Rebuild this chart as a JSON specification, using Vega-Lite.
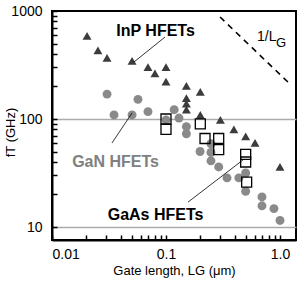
{
  "$schema": "https://vega.github.io/schema/vega-lite/v6.json",
  "autosize": "none",
  "width": 244,
  "height": 229,
  "padding": {"left": 52, "top": 11, "right": 2, "bottom": 42},
  "background": "white",
  "config": {
    "font": "Liberation Sans",
    "view": {"stroke": "black", "strokeWidth": 2},
    "axis": {"domainColor": "black", "domainWidth": 2, "tickColor": "black", "tickWidth": 1.5, "labelColor": "black", "titleColor": "black", "labelFont": "Liberation Sans", "titleFont": "Liberation Sans"}
  },
  "datasets": {
    "points": [
      {"series": "GaN", "x": 0.0304, "y": 170},
      {"series": "GaN", "x": 0.0568, "y": 152},
      {"series": "GaN", "x": 0.035, "y": 109},
      {"series": "GaN", "x": 0.0504, "y": 109},
      {"series": "GaN", "x": 0.0695, "y": 117},
      {"series": "GaN", "x": 0.118, "y": 122},
      {"series": "GaN", "x": 0.13, "y": 102},
      {"series": "GaN", "x": 0.1, "y": 98},
      {"series": "GaN", "x": 0.151, "y": 85},
      {"series": "GaN", "x": 0.151, "y": 73},
      {"series": "GaN", "x": 0.199, "y": 50},
      {"series": "GaN", "x": 0.248, "y": 59},
      {"series": "GaN", "x": 0.248, "y": 49},
      {"series": "GaN", "x": 0.248, "y": 41},
      {"series": "GaN", "x": 0.29, "y": 36},
      {"series": "GaN", "x": 0.343, "y": 28.5},
      {"series": "GaN", "x": 0.436, "y": 28.5},
      {"series": "GaN", "x": 0.5, "y": 31.6},
      {"series": "GaN", "x": 0.5, "y": 21.4},
      {"series": "GaN", "x": 0.695, "y": 19},
      {"series": "GaN", "x": 0.695, "y": 15.7},
      {"series": "GaN", "x": 0.885, "y": 14.8},
      {"series": "GaN", "x": 1.0, "y": 11.5},
      {"series": "InP", "x": 0.0203, "y": 588},
      {"series": "InP", "x": 0.0253, "y": 431},
      {"series": "InP", "x": 0.0304, "y": 369},
      {"series": "InP", "x": 0.0504, "y": 345},
      {"series": "InP", "x": 0.0695, "y": 303},
      {"series": "InP", "x": 0.08, "y": 265},
      {"series": "InP", "x": 0.1, "y": 303},
      {"series": "InP", "x": 0.1, "y": 222},
      {"series": "InP", "x": 0.151, "y": 203},
      {"series": "InP", "x": 0.2, "y": 178},
      {"series": "InP", "x": 0.151, "y": 156},
      {"series": "InP", "x": 0.151, "y": 139},
      {"series": "InP", "x": 0.151, "y": 122},
      {"series": "InP", "x": 0.2, "y": 109},
      {"series": "InP", "x": 0.3, "y": 98},
      {"series": "InP", "x": 0.394, "y": 80},
      {"series": "InP", "x": 0.5, "y": 69},
      {"series": "InP", "x": 0.604, "y": 60},
      {"series": "InP", "x": 1.0, "y": 36},
      {"series": "GaAs", "x": 0.1, "y": 100},
      {"series": "GaAs", "x": 0.1, "y": 80},
      {"series": "GaAs", "x": 0.2, "y": 90},
      {"series": "GaAs", "x": 0.22, "y": 66},
      {"series": "GaAs", "x": 0.29, "y": 66},
      {"series": "GaAs", "x": 0.29, "y": 52},
      {"series": "GaAs", "x": 0.5, "y": 47},
      {"series": "GaAs", "x": 0.5, "y": 40},
      {"series": "GaAs", "x": 0.51, "y": 26}
    ],
    "leaders": [
      {"x": 0.098, "y": 574, "x2": 0.0524, "y2": 337},
      {"x": 0.0336, "y": 60, "x2": 0.0504, "y2": 113.7},
      {"x": 0.156, "y": 17, "x2": 0.473, "y2": 41.7}
    ],
    "slope": [
      {"x": 0.298, "y": 880},
      {"x": 1.2, "y": 215}
    ],
    "boldLabels": [
      {"x": 0.081, "y": 653, "text": "InP HFETs"},
      {"x": 0.081, "y": 12.9, "text": "GaAs HFETs"}
    ],
    "grayLabels": [
      {"x": 0.0361, "y": 40, "text": "GaN HFETs"}
    ],
    "slopeMain": [
      {"x": 0.628, "y": 569, "text": "1/L"}
    ],
    "slopeSub": [
      {"x": 0.923, "y": 506, "text": "G"}
    ]
  },
  "encoding": {
    "x": {
      "field": "x", "type": "quantitative",
      "scale": {"type": "log", "domain": [0.01, 1.382], "nice": false},
      "axis": {
        "values": [0.01, 0.02, 0.03, 0.04, 0.05, 0.06, 0.07, 0.08, 0.09, 0.1, 0.2, 0.3, 0.4, 0.5, 0.6, 0.7, 0.8, 0.9, 1],
        "labelExpr": "abs(datum.value-0.01)<1e-9 ? '0.01' : abs(datum.value-0.1)<1e-9 ? '0.1' : abs(datum.value-1)<1e-9 ? '1.0' : ''",
        "labelOverlap": false,
        "labelFontSize": 14,
        "labelPadding": 12,
        "tickSize": -5,
        "grid": false,
        "title": "Gate length, LG (μm)",
        "titleFontSize": 13,
        "titleFontWeight": "normal",
        "titlePadding": 3
      }
    },
    "y": {
      "field": "y", "type": "quantitative",
      "scale": {"type": "log", "domain": [7.58, 1000], "nice": false},
      "axis": {
        "values": [10, 20, 30, 40, 50, 60, 70, 80, 90, 100, 200, 300, 400, 500, 600, 700, 800, 900, 1000],
        "labelExpr": "datum.value==10 ? '10' : datum.value==100 ? '100' : datum.value==1000 ? '1000' : ''",
        "labelOverlap": false,
        "labelFontSize": 14,
        "labelPadding": 15,
        "tickSize": -5,
        "grid": true,
        "gridColor": {"condition": {"test": "datum.value==10 || datum.value==100", "value": "#aaaaaa"}, "value": "transparent"},
        "gridWidth": 1.5,
        "title": "fT (GHz)",
        "titleFontSize": 13,
        "titleFontWeight": "normal",
        "titleX": -42,
        "titleY": 121,
        "titleBaseline": "middle",
        "titleAngle": 270
      }
    }
  },
  "layer": [
    {
      "data": {"name": "points"},
      "transform": [{"filter": "datum.series == 'GaN'"}],
      "mark": {"type": "point", "shape": "circle", "filled": true, "color": "#8a8a8a", "opacity": 1, "size": 80}
    },
    {
      "data": {"name": "points"},
      "transform": [{"filter": "datum.series == 'InP'"}],
      "mark": {"type": "point", "shape": "triangle-up", "filled": true, "color": "#3c3c3c", "opacity": 1, "size": 80}
    },
    {
      "data": {"name": "points"},
      "transform": [{"filter": "datum.series == 'GaAs'"}],
      "mark": {"type": "point", "shape": "square", "filled": false, "color": "black", "strokeWidth": 1.3, "opacity": 1, "size": 100}
    },
    {
      "data": {"name": "leaders"},
      "mark": {"type": "rule", "color": "black", "strokeWidth": 0.8},
      "encoding": {"x2": {"field": "x2"}, "y2": {"field": "y2"}}
    },
    {
      "data": {"name": "slope"},
      "mark": {"type": "line", "color": "black", "strokeWidth": 1.6, "strokeDash": [6, 5]},
      "encoding": {}
    },
    {
      "data": {"name": "boldLabels"},
      "mark": {"type": "text", "fontSize": 16, "fontWeight": "bold", "color": "black", "align": "center", "baseline": "middle"},
      "encoding": {"text": {"field": "text"}}
    },
    {
      "data": {"name": "grayLabels"},
      "mark": {"type": "text", "fontSize": 16, "fontWeight": "bold", "color": "#808080", "align": "center", "baseline": "middle"},
      "encoding": {"text": {"field": "text"}}
    },
    {
      "data": {"name": "slopeMain"},
      "mark": {"type": "text", "fontSize": 14, "color": "black", "align": "left", "baseline": "middle"},
      "encoding": {"text": {"field": "text"}}
    },
    {
      "data": {"name": "slopeSub"},
      "mark": {"type": "text", "fontSize": 13, "color": "black", "align": "left", "baseline": "middle"},
      "encoding": {"text": {"field": "text"}}
    }
  ]
}
